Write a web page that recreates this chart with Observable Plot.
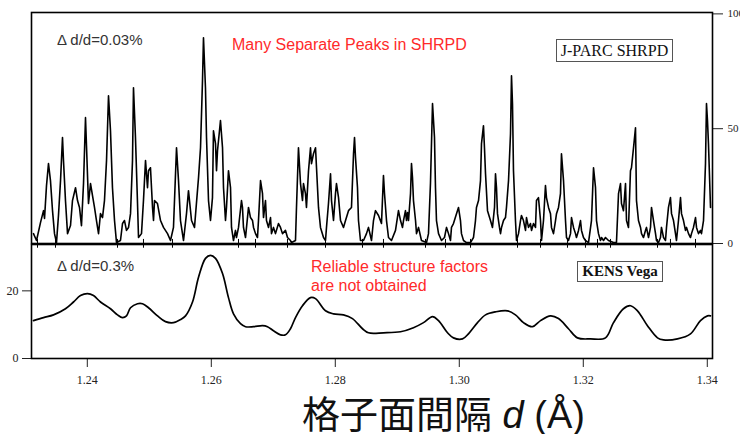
<!DOCTYPE html>
<html>
<head>
<meta charset="utf-8">
<script src="https://cdn.jsdelivr.net/npm/d3@7"></script>
<script src="https://cdn.jsdelivr.net/npm/@observablehq/plot@0.6"></script>
<style>
  html, body { margin: 0; background: #fff; overflow: hidden; }
  #chart { position: relative; width: 740px; height: 434px; background: #fff; }
  #chart svg { position: absolute; left: 0; top: 0; }
  .ann { position: absolute; white-space: nowrap; }
  .box { position: absolute; box-sizing: border-box; border: 1px solid #555; text-align: center; color: #111; font-family: "Liberation Serif", serif; }
</style>
</head>
<body>
<div id="chart"></div>
<script>
// J-PARC SHRPD (upper panel): d-spacing (Å) and intensity (0-100 scale)
const shrpdD = [1.23132,1.23181,1.23245,1.23294,1.23310,1.23342,1.23374,1.23406,1.23439,1.23471,
1.23503,1.23535,1.23568,1.23600,1.23616,1.23648,1.23681,1.23729,1.23761,1.23810,
1.23842,1.23874,1.23906,1.23939,1.23971,1.23987,1.24019,1.24052,1.24084,1.24116,
1.24148,1.24181,1.24213,1.24245,1.24277,1.24310,1.24342,1.24374,1.24406,1.24439,
1.24471,1.24535,1.24568,1.24600,1.24632,1.24665,1.24697,1.24729,1.24745,1.24777,
1.24810,1.24826,1.24874,1.24906,1.24939,1.24971,1.24987,1.25019,1.25052,1.25068,
1.25084,1.25132,1.25181,1.25229,1.25294,1.25342,1.25390,1.25439,1.25471,1.25503,
1.25552,1.25600,1.25632,1.25681,1.25729,1.25794,1.25826,1.25858,1.25874,1.25906,
1.25923,1.25955,1.25987,1.26019,1.26035,1.26068,1.26084,1.26100,1.26132,1.26148,
1.26181,1.26197,1.26229,1.26245,1.26277,1.26310,1.26326,1.26358,1.26390,1.26406,
1.26439,1.26487,1.26503,1.26519,1.26552,1.26568,1.26600,1.26632,1.26665,1.26681,
1.26713,1.26745,1.26761,1.26794,1.26826,1.26842,1.26874,1.26890,1.26923,1.26955,
1.26971,1.27003,1.27035,1.27084,1.27116,1.27148,1.27197,1.27229,1.27277,1.27294,
1.27358,1.27374,1.27406,1.27439,1.27471,1.27487,1.27519,1.27535,1.27568,1.27600,
1.27616,1.27648,1.27681,1.27697,1.27729,1.27761,1.27810,1.27842,1.27858,1.27890,
1.27923,1.27939,1.27971,1.28003,1.28019,1.28052,1.28084,1.28132,1.28165,1.28213,
1.28261,1.28294,1.28310,1.28326,1.28358,1.28374,1.28406,1.28455,1.28503,1.28535,
1.28584,1.28616,1.28648,1.28697,1.28745,1.28777,1.28794,1.28826,1.28858,1.28906,
1.28971,1.29019,1.29052,1.29084,1.29100,1.29132,1.29148,1.29165,1.29181,1.29213,
1.29229,1.29245,1.29261,1.29294,1.29310,1.29342,1.29390,1.29471,1.29503,1.29535,
1.29568,1.29600,1.29616,1.29632,1.29665,1.29713,1.29761,1.29794,1.29826,1.29858,
1.29874,1.29906,1.29955,1.29987,1.30019,1.30035,1.30068,1.30116,1.30181,1.30229,
1.30261,1.30277,1.30310,1.30342,1.30358,1.30390,1.30406,1.30423,1.30455,1.30503,
1.30535,1.30568,1.30584,1.30600,1.30616,1.30648,1.30665,1.30681,1.30713,1.30745,
1.30761,1.30794,1.30826,1.30842,1.30858,1.30874,1.30906,1.30923,1.30955,1.30987,
1.31003,1.31035,1.31068,1.31084,1.31116,1.31148,1.31165,1.31197,1.31229,1.31245,
1.31277,1.31310,1.31326,1.31358,1.31390,1.31406,1.31439,1.31471,1.31487,1.31519,
1.31552,1.31568,1.31600,1.31632,1.31648,1.31681,1.31713,1.31729,1.31761,1.31794,
1.31810,1.31842,1.31874,1.31890,1.31923,1.31955,1.31971,1.32003,1.32035,1.32084,
1.32132,1.32165,1.32197,1.32213,1.32245,1.32277,1.32294,1.32326,1.32358,1.32406,
1.32487,1.32535,1.32568,1.32600,1.32616,1.32648,1.32681,1.32697,1.32729,1.32761,
1.32777,1.32810,1.32842,1.32858,1.32890,1.32923,1.32939,1.32971,1.33003,1.33019,
1.33052,1.33084,1.33100,1.33132,1.33165,1.33181,1.33213,1.33245,1.33261,1.33294,
1.33326,1.33342,1.33374,1.33406,1.33423,1.33455,1.33487,1.33503,1.33535,1.33568,
1.33584,1.33616,1.33648,1.33665,1.33697,1.33729,1.33745,1.33777,1.33810,1.33826,
1.33858,1.33890,1.33906,1.33939,1.33971,1.33987,1.34003,1.34019,1.34052];
const shrpdI = [4.3,1.3,9.1,14.3,10.9,25.2,34.8,27.4,14.3,4.3,
0.4,12.2,27.4,46.1,36.1,18.7,4.3,7.8,18.7,24.3,
18.7,15.7,7.8,26.1,54.8,42.6,17.4,26.1,20.9,15.7,
10.0,4.3,13.0,11.3,18.7,36.1,64.3,49.1,24.3,10.0,
0.4,1.3,8.7,10.0,5.7,7.0,13.0,36.1,67.8,46.1,
17.4,2.6,4.3,18.7,36.1,24.3,31.7,33.0,15.7,10.0,
18.7,17.4,10.0,7.0,4.3,1.3,7.0,41.7,27.4,10.0,
1.3,13.0,23.0,10.0,7.0,28.7,41.7,70.9,89.6,67.8,
46.1,18.7,10.0,20.0,49.1,43.5,31.7,40.4,49.1,53.5,
41.7,24.3,10.0,15.7,31.7,24.3,7.0,1.3,5.7,2.6,
7.0,18.7,15.7,7.0,2.6,7.0,15.7,11.3,10.0,7.0,
4.3,2.6,10.0,27.4,21.7,11.3,18.7,10.0,7.0,11.3,
4.3,7.0,4.3,8.7,7.0,4.3,5.7,2.6,1.3,0.4,
1.3,15.7,41.7,26.1,18.7,26.1,21.7,15.7,31.7,41.7,
34.8,39.1,41.7,33.0,15.7,7.0,2.6,1.3,7.0,17.4,
30.4,18.7,10.0,21.7,26.1,20.0,10.0,7.0,10.0,14.3,
15.7,39.1,46.1,37.4,24.3,10.0,1.3,1.3,4.3,7.0,
1.3,10.0,14.3,12.2,8.7,29.6,21.7,10.0,2.6,1.3,
5.7,14.3,10.0,7.0,10.0,14.3,10.0,13.5,10.0,21.7,
34.8,28.7,18.7,10.0,4.3,7.0,1.3,0.4,4.3,26.1,
60.9,46.1,24.3,10.0,4.3,1.3,2.6,7.0,4.3,1.3,
7.0,8.7,13.0,15.7,10.0,4.3,1.3,0.4,0.4,2.6,
10.0,15.7,18.7,27.4,43.5,51.3,41.7,30.4,14.3,10.0,
7.0,15.7,30.4,24.3,13.0,7.0,4.3,7.0,10.0,11.3,
15.7,27.4,47.8,73.0,60.9,31.7,10.0,1.3,4.3,10.0,
12.2,10.0,5.7,11.3,7.0,8.7,5.7,8.7,7.0,18.7,
20.0,10.0,1.3,10.0,25.2,20.0,15.7,13.0,7.0,4.3,
10.0,13.0,15.7,21.7,39.1,27.4,10.0,2.6,1.3,4.3,
11.3,7.0,4.3,2.6,5.7,10.0,5.7,2.6,1.3,0.4,
10.0,33.0,24.3,10.0,4.3,1.3,2.6,1.3,2.6,1.3,
0.4,0.4,21.7,26.1,17.4,14.3,26.1,10.0,7.0,31.7,
33.0,41.7,50.4,18.7,10.0,7.0,4.3,2.6,5.7,7.0,
2.6,7.0,15.7,10.0,4.3,1.3,0.4,2.6,7.0,2.6,
1.3,7.0,15.7,20.0,13.0,10.0,4.3,1.3,10.0,20.0,
13.0,10.0,5.7,7.0,4.3,2.6,4.3,7.0,11.3,7.0,
4.3,5.7,4.3,10.0,34.8,60.9,53.5,43.5,15.7];

// KENS Vega (lower panel): d-spacing (Å) and intensity
const vegaD = [1.23132,1.23294,1.23455,1.23648,1.23777,1.23890,1.24003,1.24100,1.24213,1.24374,
1.24487,1.24568,1.24632,1.24697,1.24810,1.24890,1.24987,1.25132,1.25261,1.25390,
1.25503,1.25584,1.25697,1.25794,1.25906,1.25987,1.26068,1.26181,1.26277,1.26358,
1.26471,1.26552,1.26681,1.26826,1.26906,1.27003,1.27116,1.27197,1.27277,1.27358,
1.27471,1.27600,1.27681,1.27842,1.27971,1.28132,1.28277,1.28439,1.28535,1.28777,
1.29052,1.29261,1.29423,1.29568,1.29665,1.29810,1.29906,1.30052,1.30148,1.30294,
1.30423,1.30584,1.30777,1.30906,1.31035,1.31181,1.31310,1.31471,1.31600,1.31761,
1.31906,1.32116,1.32358,1.32487,1.32648,1.32761,1.32874,1.33035,1.33197,1.33294,
1.33519,1.33729,1.33890,1.34003,1.34052];
const vegaI = [11.2,12.1,12.9,14.7,16.7,18.6,19.2,18.6,16.7,14.7,
12.9,12.1,12.6,15.0,16.2,16.2,15.0,12.6,10.9,10.6,
11.5,12.6,16.7,24.0,29.6,30.5,29.6,25.1,18.0,13.2,
10.3,9.4,9.4,9.7,9.4,8.2,7.0,7.0,8.8,12.1,
15.6,18.0,17.7,14.1,13.2,12.9,11.8,8.8,7.6,7.6,
7.9,9.1,10.6,12.4,11.2,7.6,6.1,5.8,7.3,10.6,
12.9,13.8,14.1,12.9,10.6,9.4,11.2,12.6,11.8,8.8,
6.1,5.8,6.1,10.6,14.7,15.6,14.1,9.7,6.1,5.5,
5.8,7.3,11.2,12.6,12.6];

// reflection markers along the panel boundary (d, Å)
const reflD = [1.23197,1.23487,1.24487,1.24906,1.25374,1.26439,1.26713,1.27229,1.27842,1.28439,
1.28777,1.29455,1.29777,1.30181,1.30939,1.31310,1.31745,1.32035,1.32229,1.32439,
1.33197,1.33406,1.33810];

const xTicks = [1.24, 1.26, 1.28, 1.30, 1.32, 1.34];
const topTicks = [0, 50, 100];
const bottomTicks = [0, 20];
const xDomain = [1.231, 1.34084];

const shrpd = shrpdD.map((d, i) => ({d, I: shrpdI[i]}));
const vega = vegaD.map((d, i) => ({d, I: vegaI[i]}));

const topPlot = Plot.plot({
  width: 740, height: 434,
  marginLeft: 31, marginRight: 28, marginTop: 12, marginBottom: 191,
  x: {domain: xDomain, axis: null},
  y: {domain: [0, 100.6], axis: "right", ticks: topTicks, tickSize: 10, tickPadding: 5, label: null},
  style: {background: "transparent", overflow: "visible", fontFamily: "'Liberation Serif', serif", fontSize: "11px", color: "#222"},
  marks: [
    Plot.line(shrpd, {x: "d", y: "I", stroke: "#000", strokeWidth: 1.6}),
    Plot.frame({stroke: "#000", strokeWidth: 1.6})
  ]
});

const bottomPlot = Plot.plot({
  width: 740, height: 434,
  marginLeft: 31, marginRight: 28, marginTop: 244, marginBottom: 76,
  x: {domain: xDomain, ticks: xTicks, tickFormat: d3.format(".2f"), tickSize: 9, tickPadding: 8, label: null},
  y: {domain: [0, 33.7], axis: "left", ticks: bottomTicks, tickSize: 9, tickPadding: 4, label: null},
  style: {background: "transparent", overflow: "visible", fontFamily: "'Liberation Serif', serif", fontSize: "12px", color: "#222"},
  marks: [
    Plot.ruleX(reflD, {x: d => d, y1: 32.6, y2: 35.2, stroke: "#000", strokeWidth: 1}),
    Plot.line(vega, {x: "d", y: "I", curve: "catmull-rom", stroke: "#000", strokeWidth: 1.7}),
    Plot.frame({stroke: "#000", strokeWidth: 1.6})
  ]
});

const chart = document.getElementById("chart");
chart.appendChild(bottomPlot);
chart.appendChild(topPlot);

const html = `
<div class="ann" style="left:57px;top:31px;font:15px/18px 'Liberation Sans',Arial,sans-serif;color:#333">Δ d/d=0.03%</div>
<div class="ann" style="left:232px;top:35px;font:16px/19px 'Liberation Sans',Arial,sans-serif;color:#ff2a2a">Many Separate Peaks in SHRPD</div>
<div class="box" style="left:556px;top:39px;width:117px;height:23px;font-size:16px;line-height:21px">J-PARC SHRPD</div>
<div class="ann" style="left:57px;top:257px;font:15px/18px 'Liberation Sans',Arial,sans-serif;color:#333">Δ d/d=0.3%</div>
<div class="ann" style="left:311px;top:257px;font:16px/19px 'Liberation Sans',Arial,sans-serif;color:#ff2a2a">Reliable structure factors<br>are not obtained</div>
<div class="box" style="left:577px;top:261px;width:86px;height:21px;font-size:15px;line-height:19px;font-weight:bold">KENS Vega</div>
<div class="ann" style="left:302px;top:395px;font-size:38px;line-height:34px;font-family:'Noto Sans CJK JP',sans-serif;color:#111">格子面間隔<span style="font-family:'Liberation Sans',Arial,sans-serif"> <i>d</i> (Å)</span></div>
`;
chart.insertAdjacentHTML("beforeend", html);
</script>
</body>
</html>
